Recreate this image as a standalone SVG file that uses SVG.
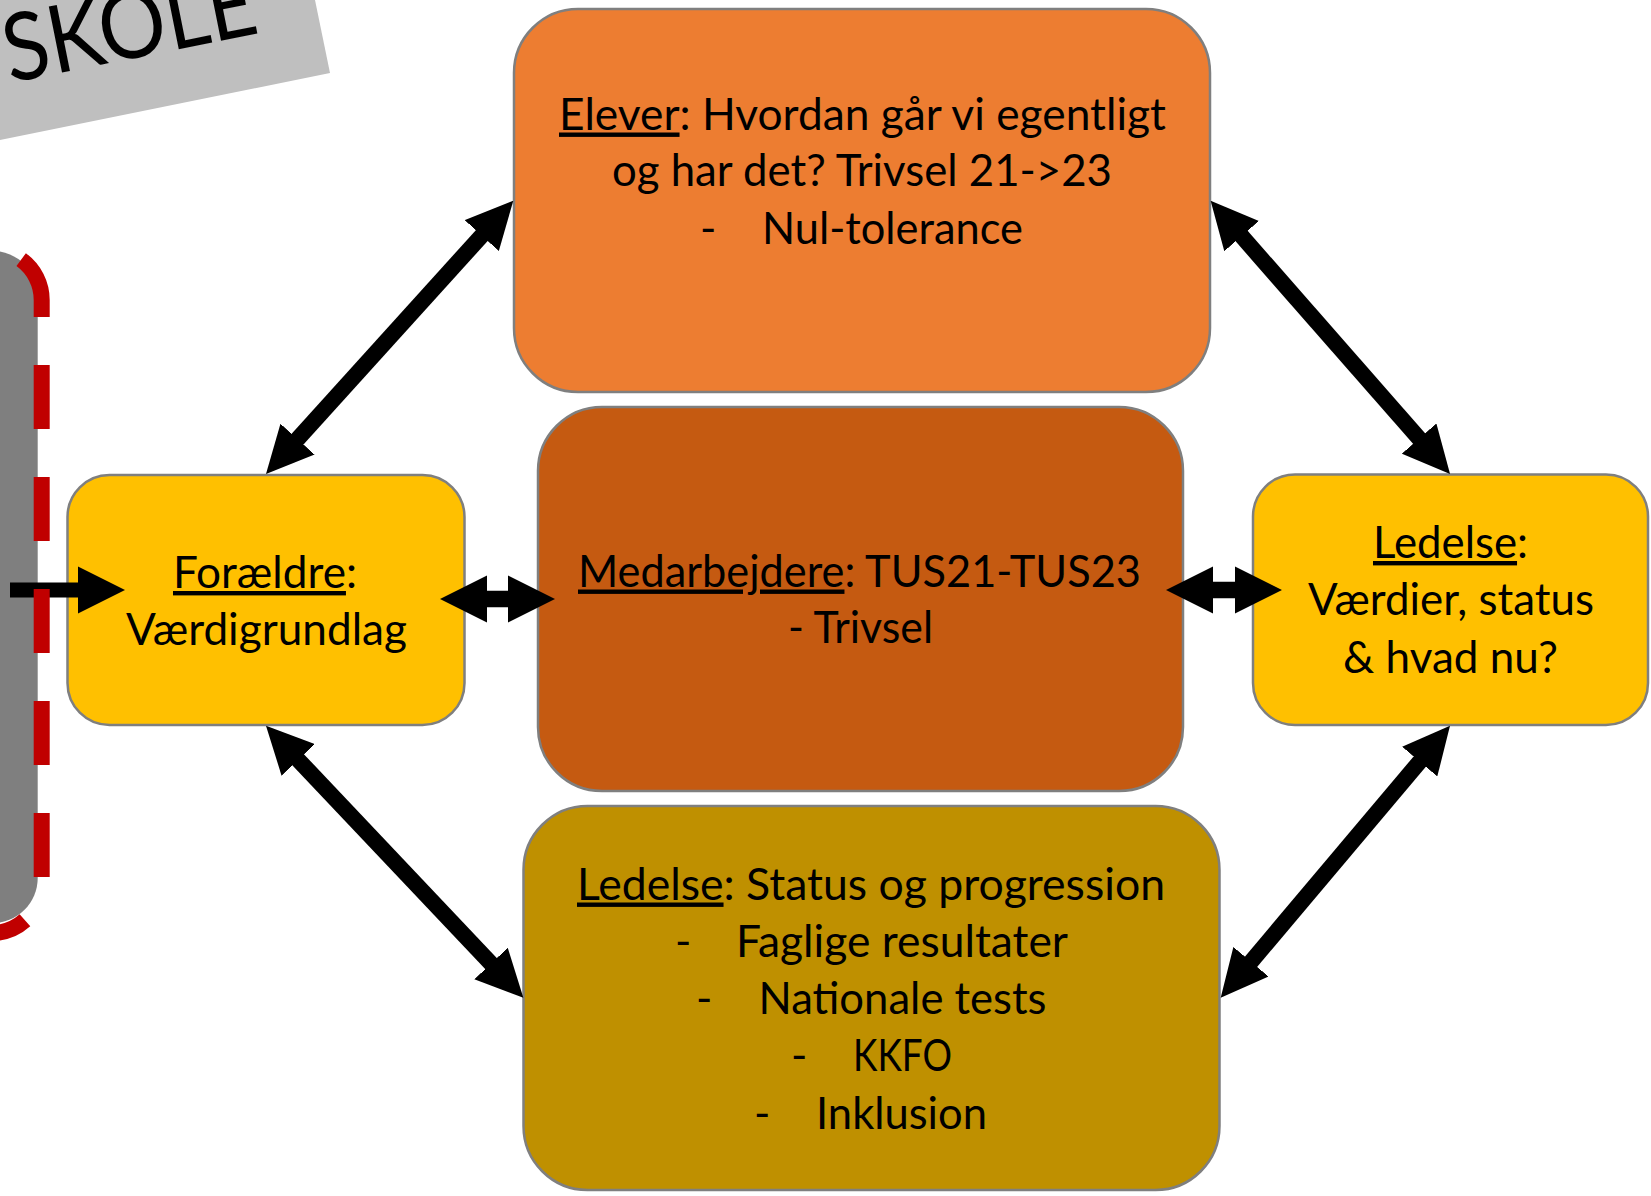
<svg xmlns="http://www.w3.org/2000/svg" width="1651" height="1196" viewBox="0 0 1651 1196">
<style>
  .t { font-family: Lato, "Open Sans", "Liberation Sans", sans-serif; font-size: 44px; fill: #000; }
  .u { text-decoration: underline; }
  .box { stroke: #7F7F7F; stroke-width: 2.5; }
  .conn { stroke: #000; stroke-width: 16; fill: none; marker-start: url(#ah); marker-end: url(#ah); }
</style>
<defs>
  <marker id="ah" viewBox="0 0 47 46" refX="2" refY="23" markerWidth="47" markerHeight="46" markerUnits="userSpaceOnUse" orient="auto-start-reverse">
    <path d="M0,0 L47,23 L0,46 Z" fill="#000"/>
  </marker>
</defs>
<rect width="1651" height="1196" fill="#FFFFFF"/>

<g id="banner">
  <polygon points="0,0 315,0 330,73 0,140" fill="#BFBFBF"/>
  <text x="10" y="83" transform="rotate(-11.3 10 83)" font-family="Lato, 'Open Sans', sans-serif" font-size="94" textLength="256" lengthAdjust="spacingAndGlyphs" fill="#000">SKOLE</text>
</g>

<g id="left-panel">
  <rect x="-200" y="251" width="237.7" height="672" rx="45" fill="#7F7F7F"/>
</g>

<g id="node-elever">
  <rect class="box" x="514" y="9" width="696" height="383" rx="64" fill="#ED7D31"/>
  <text class="t" x="559" y="129.5" textLength="607" lengthAdjust="spacingAndGlyphs"><tspan class="u">Elever</tspan>: Hvordan går vi egentligt</text>
  <text class="t" x="612" y="186" textLength="500" lengthAdjust="spacingAndGlyphs">og har det? Trivsel 21-&gt;23</text>
  <text class="t" x="700" y="243.5">-</text>
  <text class="t" x="762" y="243.5" textLength="261" lengthAdjust="spacingAndGlyphs">Nul-tolerance</text>
</g>

<g id="node-medarbejdere">
  <rect class="box" x="538" y="407" width="645" height="384" rx="64" fill="#C55A11"/>
  <text class="t" x="578" y="586.5" textLength="563" lengthAdjust="spacingAndGlyphs"><tspan class="u">Medarbejdere</tspan>: TUS21-TUS23</text>
  <text class="t" x="788" y="642.5" textLength="145" lengthAdjust="spacingAndGlyphs">- Trivsel</text>
</g>

<g id="node-ledelse-status">
  <rect class="box" x="523.5" y="806" width="696" height="384" rx="64" fill="#BF9000"/>
  <text class="t" x="577" y="899.5" textLength="588" lengthAdjust="spacingAndGlyphs"><tspan class="u">Ledelse</tspan>: Status og progression</text>
  <text class="t" x="675" y="956.5">-</text>
  <text class="t" x="736" y="956.5" textLength="332" lengthAdjust="spacingAndGlyphs">Faglige resultater</text>
  <text class="t" x="696" y="1013.5">-</text>
  <text class="t" x="758.5" y="1013.5" textLength="288" lengthAdjust="spacingAndGlyphs">Nationale tests</text>
  <text class="t" x="791" y="1071">-</text>
  <text class="t" x="853" y="1071" textLength="99" lengthAdjust="spacingAndGlyphs">KKFO</text>
  <text class="t" x="754" y="1129">-</text>
  <text class="t" x="816" y="1129" textLength="171" lengthAdjust="spacingAndGlyphs">Inklusion</text>
</g>

<g id="node-foraeldre">
  <rect class="box" x="67.5" y="475" width="397" height="250" rx="42" fill="#FFC000"/>
  <text class="t" x="173" y="588" textLength="184" lengthAdjust="spacingAndGlyphs"><tspan class="u">Forældre</tspan>:</text>
  <text class="t" x="126" y="645" textLength="281" lengthAdjust="spacingAndGlyphs">Værdigrundlag</text>
</g>

<g id="node-ledelse-vaerdier">
  <rect class="box" x="1253" y="474.5" width="395" height="250.5" rx="42" fill="#FFC000"/>
  <text class="t" x="1373" y="558" textLength="155" lengthAdjust="spacingAndGlyphs"><tspan class="u">Ledelse</tspan>:</text>
  <text class="t" x="1308" y="615" textLength="286" lengthAdjust="spacingAndGlyphs">Værdier, status</text>
  <text class="t" x="1343" y="673" textLength="215" lengthAdjust="spacingAndGlyphs">&amp; hvad nu?</text>
</g>

<g id="connectors">
  <line class="conn" x1="483.1" y1="234.1" x2="296.2" y2="440.6"/>
  <line class="conn" x1="1240.3" y1="234.6" x2="1420.4" y2="440.1"/>
  <line class="conn" x1="296.9" y1="758.4" x2="492.4" y2="965.0"/>
  <line class="conn" x1="1421.0" y1="760.1" x2="1249.7" y2="963.3"/>
  <polygon points="440,599 487,575.5 487,590.7 508,590.7 508,575.5 555,599 508,622.5 508,607.3 487,607.3 487,622.5" fill="#000"/>
  <polygon points="1166,590 1213,566.5 1213,581.7 1235,581.7 1235,566.5 1282,590 1235,613.5 1235,598.3 1213,598.3 1213,613.5" fill="#000"/>
  <line x1="10" y1="590" x2="80" y2="590" stroke="#000" stroke-width="15"/>
  <polygon points="78,566.5 125,590 78,613.5" fill="#000"/>
</g>

<g id="left-panel-frame">
  <path d="M -60,250 H -8.3 A 50 50 0 0 1 41.7,300 V 883 A 50 50 0 0 1 -8.3,933 H -60" fill="none" stroke="#C00000" stroke-width="16" stroke-dasharray="64 48" stroke-dashoffset="28.8"/>
</g>
</svg>
